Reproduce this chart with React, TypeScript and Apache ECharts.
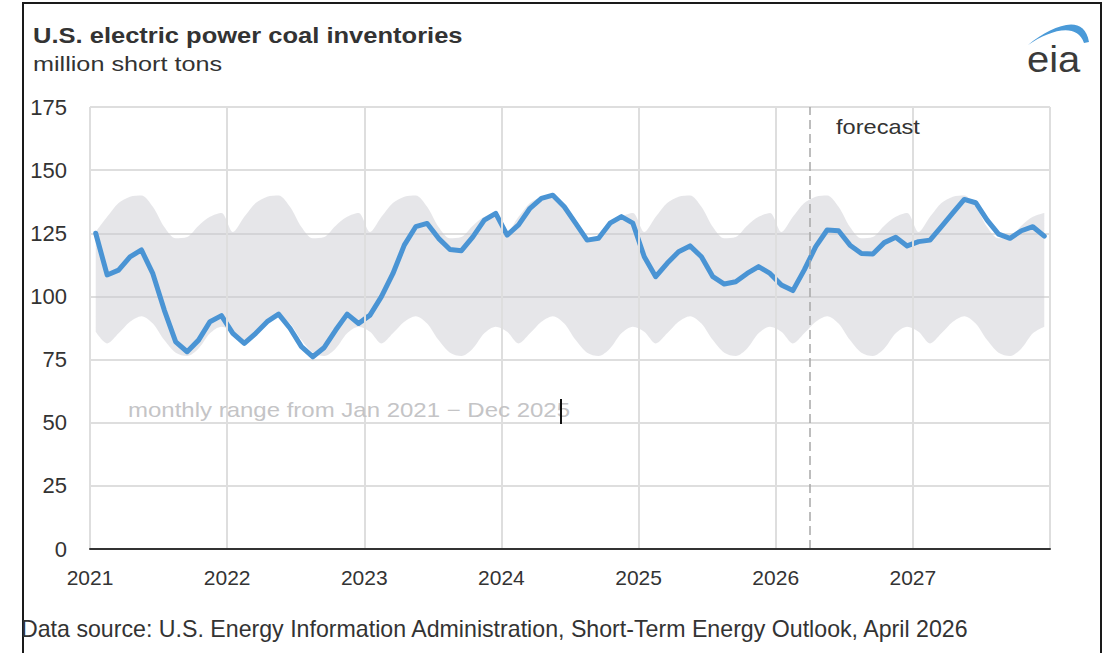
import React, { useEffect, useRef } from 'react';
import * as echarts from 'echarts';

// ---- data ----
const years = [2021, 2022, 2023, 2024, 2025, 2026, 2027];
const monthNames = ['Jan', 'Feb', 'Mar', 'Apr', 'May', 'Jun', 'Jul', 'Aug', 'Sep', 'Oct', 'Nov', 'Dec'];
const forecastStart = 63; // April 2026, months since Jan 2021

// monthly range Jan 2021 - Dec 2025 (by calendar month)
const monthlyMax = [125.5, 131.5, 137, 139.5, 140, 135.5, 127.5, 123, 123.5, 128, 131.5, 133];
const monthlyMin = [86, 81.4, 85.4, 90, 92.2, 89.3, 82.7, 77.7, 76.4, 79.4, 85.4, 88];

// U.S. electric power coal inventories, million short tons, monthly Jan 2021 - Dec 2027
const inventories = [
  125, 108.5, 110.4, 115.7, 118.4, 109, 94.6, 82, 78.1, 82.7, 90, 92.4,
  85.4, 81.4, 85.4, 90, 93, 87.4, 80.1, 76.1, 79.8, 86.7, 93, 89.3,
  92.6, 99.9, 109, 120.3, 127.6, 128.9, 123, 118.6, 118.1, 123.6, 130.2, 132.9,
  124.3, 128.3, 134.9, 138.8, 140.1, 135.5, 128.9, 122.3, 123, 129, 131.6, 129,
  115.7, 107.8, 113.1, 117.7, 120, 115.7, 107.8, 104.9, 105.8, 109.1, 111.8, 109.1,
  104.5, 102.3, 110.5, 119.7, 126.3, 126, 120.3, 117, 116.8, 121.3, 123.4, 120,
  121.7, 122.3, 127.6, 133.1, 138.4, 137.1, 130.2, 124.7, 123, 126, 127.6, 123.9,
];

const yTicks = { min: 0, max: 175, interval: 25 };

const FONT = 'Liberation Sans, Arial, Helvetica, sans-serif';

echarts.graphic.registerShape(
  'eiaSwoosh',
  echarts.graphic.extendPath(
    'M0 0 C24 -19 56 -33 61 -3 L56 -2 C49 -23 22 -15 0 0 Z',
    {}
  )
);

export default function App() {
  const ref = useRef<HTMLDivElement>(null);

  useEffect(() => {
    document.body.style.margin = '0';
    if (!ref.current) return;
    const chart = echarts.init(ref.current, undefined, { renderer: 'svg' });

    const months: string[] = [];
    years.forEach((y) => monthNames.forEach((m) => months.push(`${m} ${y}`)));
    const lowData = months.map((_, i) => monthlyMin[i % 12]);
    const spanData = months.map((_, i) => +(monthlyMax[i % 12] - monthlyMin[i % 12]).toFixed(2));
    const totalMonths = months.length;

    chart.setOption({
      animation: false,
      grid: { left: 90, right: 60, top: 107, bottom: 104 },
      xAxis: [
        {
          type: 'value',
          min: 0,
          max: totalMonths,
          interval: 12,
          axisLine: { show: true, lineStyle: { color: '#333', width: 2 } },
          axisTick: { show: false },
          splitLine: { show: true, lineStyle: { color: '#dedede', width: 2 } },
          axisLabel: {
            fontFamily: FONT,
            fontSize: 21,
            color: '#333',
            margin: 18,
            formatter: (v: number) => (v >= totalMonths ? '' : String(years[0] + v / 12)),
          },
          z: 5,
        },
        {
          type: 'category',
          data: months,
          boundaryGap: true,
          show: false,
        },
      ],
      yAxis: {
        type: 'value',
        min: yTicks.min,
        max: yTicks.max,
        interval: yTicks.interval,
        axisLine: { show: false },
        axisTick: { show: false },
        splitLine: { show: true, lineStyle: { color: '#dedede', width: 2 } },
        axisLabel: { fontFamily: FONT, fontSize: 22, color: '#333', margin: 23 },
      },
      series: [
        {
          type: 'line',
          xAxisIndex: 1,
          data: lowData,
          stack: 'band',
          smooth: 0.3,
          symbol: 'none',
          lineStyle: { opacity: 0 },
          areaStyle: { opacity: 0 },
          silent: true,
          z: 1,
        },
        {
          type: 'line',
          xAxisIndex: 1,
          data: spanData,
          stack: 'band',
          smooth: 0.3,
          symbol: 'none',
          lineStyle: { opacity: 0 },
          areaStyle: { color: 'rgba(200,201,206,0.65)' },
          silent: true,
          z: 1,
        },
        {
          type: 'line',
          xAxisIndex: 1,
          data: inventories,
          symbol: 'none',
          lineStyle: { color: '#4a94d4', width: 5, join: 'round', cap: 'round' },
          z: 3,
        },
        {
          type: 'line',
          xAxisIndex: 0,
          data: [],
          symbol: 'none',
          z: 2,
          markLine: {
            silent: true,
            symbol: ['none', 'none'],
            label: { show: false },
            lineStyle: { color: '#a8a8a8', type: [9, 5], width: 1.5 },
            data: [{ xAxis: forecastStart }],
          },
        },
      ],
      graphic: [
        {
          type: 'rect',
          shape: { x: 23, y: 3, width: 1078, height: 700 },
          style: { fill: 'none', stroke: '#1a1a1a', lineWidth: 2 },
          silent: true,
          z: 10,
        },
        {
          type: 'text',
          x: 33,
          y: 35,
          scaleX: 1.16,
          style: {
            text: 'U.S. electric power coal inventories',
            fontFamily: FONT,
            fontWeight: 'bold',
            fontSize: 22,
            fill: '#333',
            textVerticalAlign: 'middle',
          },
          z: 10,
        },
        {
          type: 'text',
          x: 33,
          y: 64,
          scaleX: 1.2,
          style: {
            text: 'million short tons',
            fontFamily: FONT,
            fontSize: 21,
            fill: '#333',
            textVerticalAlign: 'middle',
          },
          z: 10,
        },
        {
          type: 'eiaSwoosh',
          x: 1028,
          y: 45,
          style: { fill: '#4a9ad8' },
          z: 10,
        },
        {
          type: 'text',
          x: 1027,
          y: 59,
          scaleX: 1.08,
          style: {
            text: 'eia',
            fontFamily: FONT,
            fontSize: 37,
            fill: '#3a3a3a',
            textVerticalAlign: 'middle',
          },
          z: 10,
        },
        {
          type: 'text',
          x: 836,
          y: 127,
          scaleX: 1.18,
          style: {
            text: 'forecast',
            fontFamily: FONT,
            fontSize: 20,
            fill: '#333',
            textVerticalAlign: 'middle',
          },
          z: 10,
        },
        {
          type: 'text',
          x: 128,
          y: 410,
          scaleX: 1.2,
          style: {
            text: 'monthly range from Jan 2021 \u2212 Dec 2025',
            fontFamily: FONT,
            fontSize: 20,
            fill: '#c4c4c6',
            textVerticalAlign: 'middle',
          },
          z: 10,
        },
        {
          type: 'line',
          shape: { x1: 561, y1: 399, x2: 561, y2: 424 },
          style: { stroke: '#111', lineWidth: 2 },
          z: 11,
        },
        {
          type: 'text',
          x: 21,
          y: 629,
          scaleX: 1.008,
          style: {
            text: 'Data source: U.S. Energy Information Administration, Short-Term Energy Outlook, April 2026',
            fontFamily: FONT,
            fontSize: 23,
            fill: '#333',
            textVerticalAlign: 'middle',
          },
          z: 10,
        },
      ],
    });

    return () => chart.dispose();
  }, []);

  return <div ref={ref} style={{ width: 1110, height: 653 }} />;
}
